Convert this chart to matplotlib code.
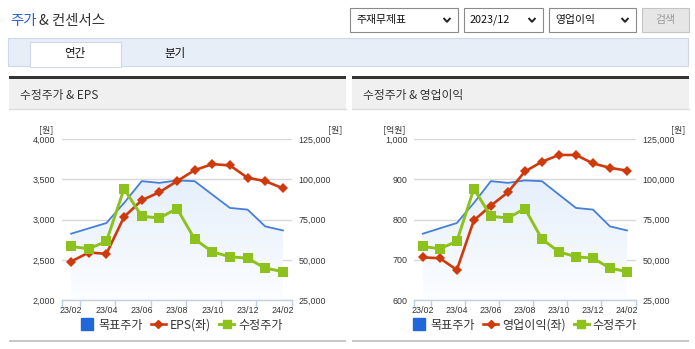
import matplotlib
matplotlib.use('Agg')
import matplotlib.pyplot as plt
import numpy as np
from matplotlib.patches import Rectangle, Polygon
from matplotlib.lines import Line2D
from matplotlib.colors import LinearSegmentedColormap

plt.rcParams['font.family'] = ['Noto Sans CJK KR', 'DejaVu Sans']

# ---------------- data ----------------
months = ['23/02', '23/03', '23/04', '23/05', '23/06', '23/07', '23/08',
          '23/09', '23/10', '23/11', '23/12', '24/01', '24/02']
tick_labels = ['23/02', '23/04', '23/06', '23/08', '23/10', '23/12', '24/02']
target_price = [66250, 69600, 72900, 85400, 98950, 97900, 99400, 98950,
                90600, 82300, 81250, 70800, 68300]
adj_price = [58300, 56900, 61500, 94200, 77100, 76000, 81900, 62900,
             55000, 51900, 51000, 44800, 42700]
eps = [2479, 2591, 2575, 3034, 3241, 3341, 3479, 3616, 3691, 3675,
       3521, 3479, 3391]
op_profit = [706, 704, 675, 798, 835, 868, 920, 944, 961, 961, 940, 929, 922]

eps_ticks = [2000, 2500, 3000, 3500, 4000]
op_ticks = [600, 700, 800, 900, 1000]
price_ticks = [25000, 50000, 75000, 100000, 125000]

W, H = 695, 349
fig = plt.figure(figsize=(W / 100, H / 100), dpi=100)
fig.patch.set_facecolor('white')

bg = fig.add_axes([0, 0, 1, 1])
bg.set_xlim(0, W)
bg.set_ylim(H, 0)
bg.axis('off')

DARK = '#333333'

# ---------------- page header ----------------
bg.text(10, 21, '주가', color='#2a62d0', fontsize=10.4, va='center', ha='left')
bg.text(39, 21, '& 컨센서스', color=DARK, fontsize=10.4, va='center', ha='left')


def dropdown(x0, x1, label, y0=8, y1=32):
    bg.add_patch(Rectangle((x0, y0), x1 - x0, y1 - y0, facecolor='white',
                           edgecolor='#8a8a8a', lw=0.8))
    bg.text(x0 + 6, (y0 + y1) / 2, label, fontsize=7.8, color='#111111',
            va='center', ha='left')
    cx = x1 - 11
    cy = (y0 + y1) / 2
    bg.plot([cx - 3.5, cx, cx + 3.5], [cy - 2, cy + 1.8, cy - 2],
            color='#222222', lw=1.4, solid_capstyle='butt')


dropdown(350, 458, '주재무제표')
dropdown(464, 543, '2023/12')
dropdown(549, 636, '영업이익')
bg.add_patch(Rectangle((642, 8), 47, 24, facecolor='#e6e6e6',
                       edgecolor='#c4c4c4', lw=0.8))
bg.text(665.5, 20, '검색', fontsize=7.8, color='#9a9a9a', va='center', ha='center')

# tab bar
bg.add_patch(Rectangle((8, 38), 680, 28, facecolor='#e8eef8',
                       edgecolor='#cfd8e8', lw=0.8))
bg.add_patch(Rectangle((30, 42), 90.5, 25, facecolor='white',
                       edgecolor='#cfd8e8', lw=0.8, zorder=3))
bg.add_patch(Rectangle((30.6, 64), 89.3, 3, facecolor='white',
                       edgecolor='none', zorder=4))
bg.text(74.5, 54, '연간', fontsize=8.3, color='#111111', va='center', ha='center', zorder=5)
bg.text(175, 53, '분기', fontsize=8.3, color='#111111', va='center', ha='center')

# ---------------- panels ----------------
panels = [(9, 346, '수정주가 & EPS'), (352, 689, '수정주가 & 영업이익')]
for (x0, x1, title) in panels:
    bg.add_patch(Rectangle((x0, 79), x1 - x0, 29.5, facecolor='#f0f0f0',
                           edgecolor='none'))
    bg.add_patch(Rectangle((x0, 76.3), x1 - x0, 2.8, facecolor='#333333',
                           edgecolor='none'))
    bg.plot([x0, x1], [108.5, 108.5], color='#dcdcdc', lw=1)
    bg.text(x0 + 11, 95, title, fontsize=8.5, color=DARK, va='center', ha='left')
    bg.add_patch(Rectangle((x0, 339.6), x1 - x0, 2.6, facecolor='#c8c8c8',
                           edgecolor='none'))

TICK_FONT = dict(family=['Liberation Sans', 'DejaVu Sans'], size=6.4)
grad_cmap = LinearSegmentedColormap.from_list('g', ['#fcfdff', '#e5effb'])


def px_axes(x0, y0, x1, y1):
    return fig.add_axes([x0 / W, 1 - y1 / H, (x1 - x0) / W, (y1 - y0) / H])


def make_chart(x0, x1, left_vals, left_ticks, left_name, left_unit,
               left_unit_x, right_unit_x, legend_cx):
    y_top, y_bot = 139.3, 300.0
    x = np.arange(len(months))

    # base axes: price scale (blue target area)
    axA = px_axes(x0, y_top, x1, y_bot)
    axB = axA.twinx()   # left scale series
    axC = axA.twinx()   # adjusted price on top

    axA.set_xlim(-0.5, len(months) - 0.5)
    axA.set_ylim(price_ticks[0], price_ticks[-1])
    axA.patch.set_visible(False)
    for s in ['top', 'left', 'right']:
        axA.spines[s].set_visible(False)
    axA.spines['bottom'].set_color('#c0cfe0')
    axA.spines['bottom'].set_linewidth(1.0)
    axA.set_yticks(price_ticks)
    axA.set_yticklabels([f'{v:,}' for v in price_ticks], fontdict=TICK_FONT,
                        color=DARK)
    axA.grid(axis='y', color='#d8d8d8', lw=1)
    axA.set_axisbelow(True)

    # x ticks: marks between categories, labels on every second category
    major = [-0.5] + [i + 0.5 for i in range(0, len(months), 2)]
    axA.set_xticks(major)
    axA.set_xticklabels([''] * len(major))
    axA.tick_params(axis='x', which='major', length=5, color='#c0cfe0', width=1)
    axA.set_xticks([months.index(t) for t in tick_labels], minor=True)
    axA.set_xticklabels(tick_labels, minor=True, fontdict=TICK_FONT, color=DARK)
    axA.tick_params(axis='x', which='minor', length=0, pad=4)

    # gradient area under target price
    verts = np.vstack([np.column_stack([x, target_price]),
                       [[x[-1], price_ticks[0]], [x[0], price_ticks[0]]]])
    poly = Polygon(verts, closed=True, facecolor='none', edgecolor='none',
                   transform=axA.transData)
    axA.add_patch(poly)
    grad = np.linspace(0, 1, 256).reshape(-1, 1)
    im = axA.imshow(grad, extent=[x[0], x[-1], price_ticks[0], max(target_price)],
                    origin='lower', aspect='auto', cmap=grad_cmap, zorder=1.5)
    im.set_clip_path(poly)
    axA.set_xlim(-0.5, len(months) - 0.5)
    axA.set_ylim(price_ticks[0], price_ticks[-1])
    axA.plot(x, target_price, color='#457fd8', lw=1.3, zorder=3)

    axB.set_ylim(left_ticks[0], left_ticks[-1])
    axB.patch.set_visible(False)
    for s in axB.spines.values():
        s.set_visible(False)
    axB.set_yticks(left_ticks)
    axB.set_yticklabels([f'{v:,}' for v in left_ticks], fontdict=TICK_FONT,
                        color=DARK)
    axB.plot(x, left_vals, color='#cf3a0c', lw=1.9, marker='D', markersize=4.6,
             markeredgewidth=0, zorder=3)
    axB.set_xlim(-0.5, len(months) - 0.5)

    axC.set_ylim(price_ticks[0], price_ticks[-1])
    axC.patch.set_visible(False)
    for s in axC.spines.values():
        s.set_visible(False)
    axC.set_yticks([])
    axC.plot(x, adj_price, color='#8cc21b', lw=2.1, marker='s', markersize=6.6,
             markeredgewidth=0, zorder=3)
    axC.set_xlim(-0.5, len(months) - 0.5)

    # tick side assignment after all twins exist
    axA.yaxis.set_ticks_position('right')
    axA.yaxis.set_label_position('right')
    axA.tick_params(axis='y', which='both', left=False, labelleft=False,
                    right=False, labelright=True, length=0, pad=5)
    axB.yaxis.set_ticks_position('left')
    axB.tick_params(axis='y', which='both', left=False, labelleft=True,
                    right=False, labelright=False, length=0, pad=5)
    axC.tick_params(axis='both', which='both', left=False, labelleft=False,
                    right=False, labelright=False, bottom=False,
                    labelbottom=False)
    axB.tick_params(axis='x', which='both', bottom=False, labelbottom=False)

    # units
    bg.text(left_unit_x, 129.5, left_unit, fontsize=6.4, color=DARK,
            ha='center', va='center')
    bg.text(right_unit_x, 129.5, '[원]', fontsize=6.4, color=DARK,
            ha='center', va='center')

    handles = [
        Line2D([], [], color='#2167d9', marker='s', linestyle='none', markersize=8.5),
        Line2D([], [], color='#cf3a0c', marker='D', lw=1.9, markersize=4.2),
        Line2D([], [], color='#8cc21b', marker='s', lw=2.1, markersize=6),
    ]
    labels = ['목표주가', left_name, '수정주가']
    fig.legend(handles, labels, loc='center',
               bbox_to_anchor=(legend_cx / W, 1 - 325 / H), ncol=3,
               frameon=False, fontsize=8.7, handlelength=1.2,
               handletextpad=0.35, columnspacing=0.7, borderpad=0,
               labelcolor=DARK)


make_chart(62.3, 291.7, eps, eps_ticks, 'EPS(좌)', '[원]', 46, 335.5, 181)
make_chart(414.3, 635.5, op_profit, op_ticks, '영업이익(좌)', '[억원]', 393.7,
           678.5, 524.5)

fig.savefig('out.png', dpi=100, facecolor='white')
